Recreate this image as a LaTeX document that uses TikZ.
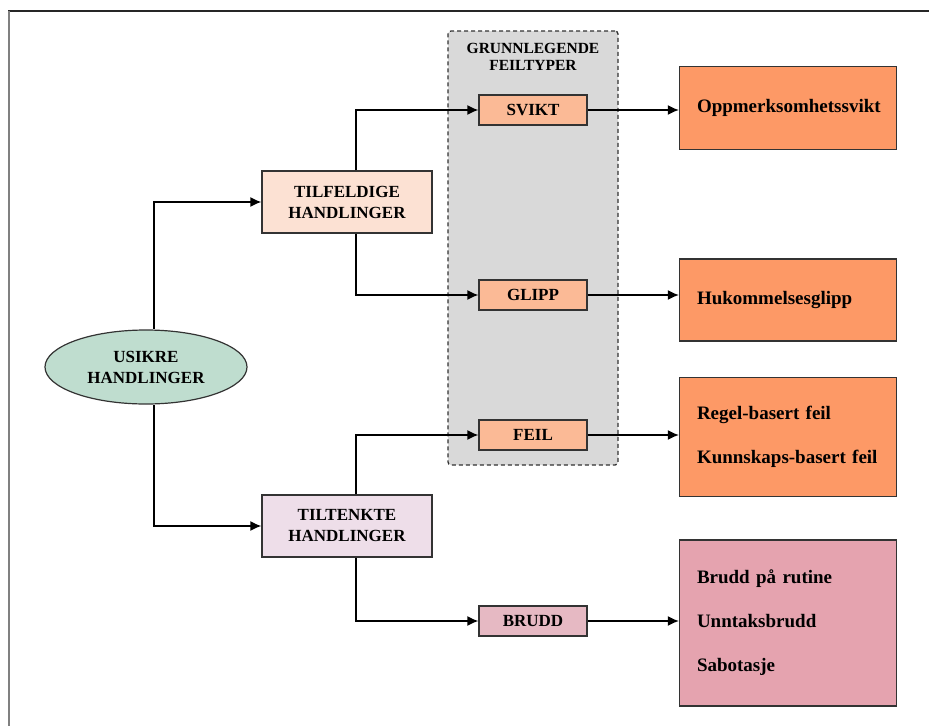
\documentclass[tikz,border=0pt]{standalone}
\usepackage{fontspec}
\setmainfont{Liberation Serif}
\usetikzlibrary{arrows.meta, positioning, shapes.geometric}
\definecolor{usikrefill}{RGB}{191,221,207}
\definecolor{tilfill}{RGB}{252,225,211}
\definecolor{typefill}{RGB}{251,186,150}
\definecolor{resfill}{RGB}{253,153,102}
\definecolor{tiltfill}{RGB}{238,222,233}
\definecolor{bruddfill}{RGB}{230,185,195}
\definecolor{bruddresfill}{RGB}{229,163,175}
\definecolor{groupfill}{RGB}{217,217,217}
\newlength{\typewidth}
\setlength{\typewidth}{108pt}
\newlength{\reswidth}
\setlength{\reswidth}{217pt}
\newcommand{\usikretext}{USIKRE\\HANDLINGER}
\newcommand{\tilfeldigetext}{TILFELDIGE\\HANDLINGER}
\newcommand{\tiltenktetext}{TILTENKTE\\HANDLINGER}
\newcommand{\grunntext}{GRUNNLEGENDE\\FEILTYPER}
\newcommand{\feiltext}{Regel-basert feil\\Kunnskaps-basert feil}
\newcommand{\bruddtext}{Brudd på rutine\\Unntaksbrudd\\Sabotasje}

\begin{document}
\begin{tikzpicture}[x=1pt, y=-1pt, >={Latex[length=11pt,width=10pt]},
  lbl/.style={font=\fontsize{17}{21}\selectfont\bfseries, align=center},
  actbox/.style={lbl, rectangle, draw=black!80, line width=1.2pt, minimum width=170pt, minimum height=62pt},
  typebox/.style={lbl, rectangle, draw=black!80, line width=1.2pt, fill=typefill, minimum width=\typewidth, minimum height=30pt, inner sep=0pt},
  resbox/.style={rectangle, draw=black!80, line width=1.2pt, minimum width=\reswidth, text width=182pt, inner xsep=17.5pt, align=left, font=\fontsize{19}{44}\selectfont\bfseries},
  link/.style={->, line width=1.5pt}]
  \useasboundingbox (0,0) rectangle (929,726);
  %frame
  \draw[line width=1.3pt, black!85] (8,11) -- (929,11);
  \draw[line width=2pt, black!50] (9,11) -- (9,726);

  %group of basic error types
  \draw (533,248) node[rectangle, draw=black!80, dashed, dash pattern=on 4pt off 3pt, line width=1.3pt, rounded corners=3pt, fill=groupfill, minimum width=170pt, minimum height=434pt] (grunn) {};
  \draw (533,57) node[font=\fontsize{15.5}{17}\selectfont\bfseries, align=center] (grunntitle) {\grunntext};

  %actions
  \draw (146,367) node[lbl, ellipse, draw=black!80, line width=1.2pt, fill=usikrefill, minimum width=202pt, minimum height=74pt, inner sep=0pt] (usikre) {\usikretext};
  \draw (347,202) node[actbox, fill=tilfill] (tilf) {\tilfeldigetext};
  \draw (347,526) node[actbox, fill=tiltfill] (tilt) {\tiltenktetext};

  %error types
  \draw (533,110) node[typebox] (svikt) {SVIKT};
  \draw (533,295) node[typebox] (glipp) {GLIPP};
  \draw (533,435) node[typebox] (feil) {FEIL};
  \draw (533,621) node[typebox, fill=bruddfill] (brudd) {BRUDD};

  %results
  \draw (788,108) node[resbox, fill=resfill, minimum height=83pt] (opp) {Oppmerksomhetssvikt};
  \draw (788,300) node[resbox, fill=resfill, minimum height=82pt] (huk) {Hukommelsesglipp};
  \draw (788,437) node[resbox, fill=resfill, minimum height=119pt] (regel) {\feiltext};
  \draw (788,623) node[resbox, fill=bruddresfill, minimum height=166pt] (bruddres) {\bruddtext};

  %elbow arrows
  \draw[link] ([xshift=8pt]usikre.north) |- (tilf);
  \draw[link] ([xshift=8pt]usikre.south) |- (tilt);
  \draw[link] ([xshift=9pt]tilf.north) |- (svikt);
  \draw[link] ([xshift=9pt]tilf.south) |- (glipp);
  \draw[link] ([xshift=9pt]tilt.north) |- (feil);
  \draw[link] ([xshift=9pt]tilt.south) |- (brudd);

  %straight arrows to results
  \path (svikt) edge[link] (svikt -| opp.west);
  \path (glipp) edge[link] (glipp -| huk.west);
  \path (feil) edge[link] (feil -| regel.west);
  \path (brudd) edge[link] (brudd -| bruddres.west);
\end{tikzpicture}
\end{document}
